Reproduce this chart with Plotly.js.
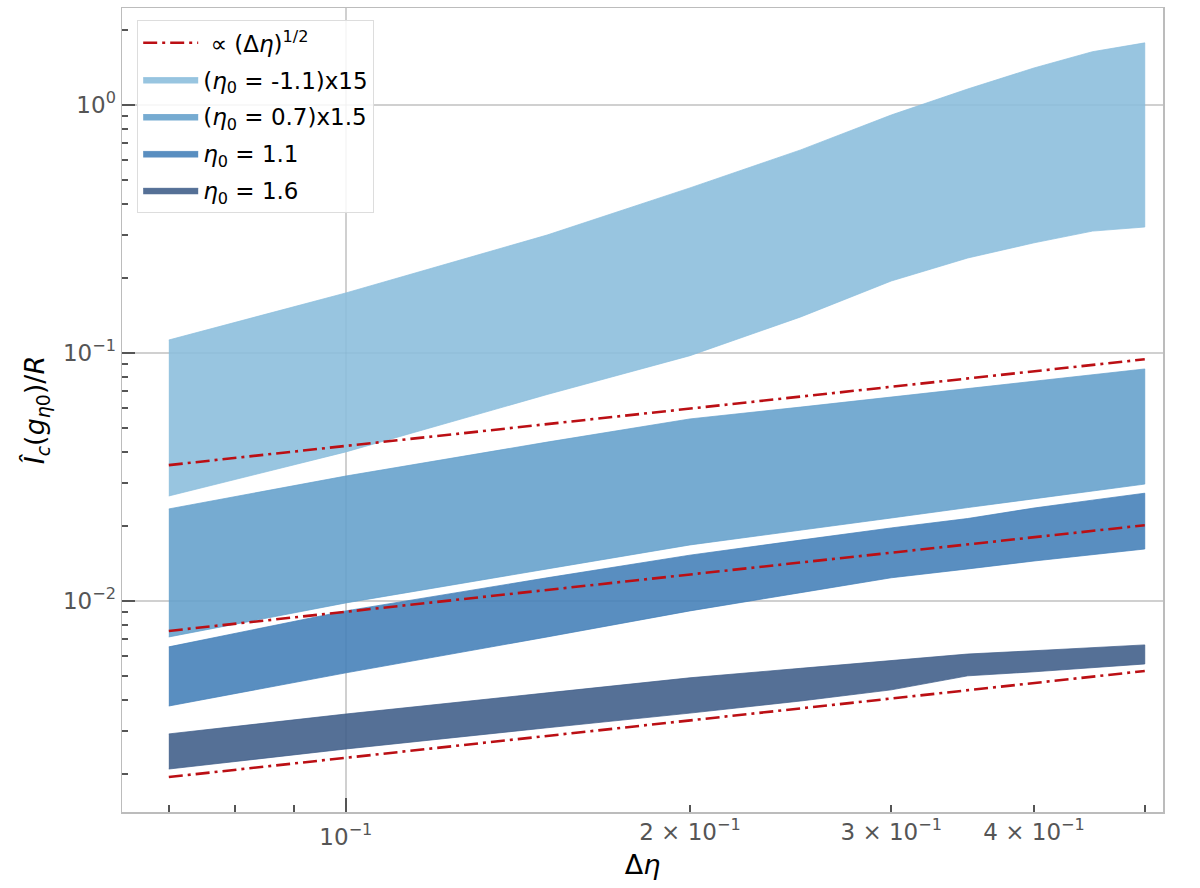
<!DOCTYPE html>
<html>
<head>
<meta charset="utf-8">
<script src="https://cdn.plot.ly/plotly-3.0.1.min.js"></script>
<style>html,body{margin:0;padding:0;background:#fff;}#chart{width:1200px;height:888px;}</style>
</head>
<body>
<div id="chart"></div>
<script>
// Δη sample positions
const deltaEta = [0.07, 0.1, 0.15, 0.2, 0.25, 0.3, 0.35, 0.4, 0.45, 0.5];

// Band 1: (η0 = -1.1) x15
const band1Upper = [0.1128, 0.1746, 0.299, 0.463, 0.659, 0.911, 1.16, 1.41, 1.64, 1.78];
const band1Lower = [0.0265, 0.0399, 0.068, 0.0975, 0.1397, 0.195, 0.2415, 0.278, 0.310, 0.322];
// Band 2: (η0 = 0.7) x1.5
const band2Upper = [0.0235, 0.0319, 0.0437, 0.0542, 0.0605, 0.0665, 0.0718, 0.0770, 0.0815, 0.0862];
const band2Lower = [0.00716, 0.00982, 0.01346, 0.01682, 0.0193, 0.0216, 0.0238, 0.0258, 0.0278, 0.0296];
// Band 3: η0 = 1.1
const band3Upper = [0.00653, 0.00912, 0.0124, 0.0153, 0.0176, 0.0197, 0.0215, 0.0237, 0.0255, 0.0272];
const band3Lower = [0.00377, 0.00513, 0.00716, 0.00912, 0.0108, 0.0124, 0.01346, 0.01449, 0.0154, 0.0162];
// Band 4: η0 = 1.6
const band4Upper = [0.00291, 0.0035, 0.00426, 0.0049, 0.00535, 0.00573, 0.00611, 0.0063, 0.00648, 0.00665];
const band4Lower = [0.0021, 0.00253, 0.00308, 0.00353, 0.00395, 0.00438, 0.00499, 0.00518, 0.00538, 0.00557];

// Reference lines ∝ (Δη)^1/2 (end points)
const refX = [0.07, 0.5];
const ref1Y = [0.0353, 0.0943];
const ref2Y = [0.00757, 0.0202];
const ref3Y = [0.00195, 0.00522];

const bandNames = ['(<i>η</i><sub>0</sub> = -1.1)x15', '(<i>η</i><sub>0</sub> = 0.7)x1.5', '<i>η</i><sub>0</sub> = 1.1', '<i>η</i><sub>0</sub> = 1.6'];
const refName = ' ∝ (Δ<i>η</i>)<sup>1/2</sup>';

// Tick labels
const xMajorVals = [0.1];
const xMajorText = ['10<sup>−1</sup>'];
const xLabelVals = [0.2, 0.3, 0.4];
const xLabelText = ['2 × 10<sup>−1</sup>', '3 × 10<sup>−1</sup>', '4 × 10<sup>−1</sup>'];
const xMinorVals = [0.07, 0.08, 0.09, 0.2, 0.3, 0.4, 0.5];
const yMajorVals = [1, 0.1, 0.01];
const yMajorText = ['10<sup>0</sup>', '10<sup>−1</sup>', '10<sup>−2</sup>'];
const yMinorVals = [0.002, 0.003, 0.004, 0.005, 0.006, 0.007, 0.008, 0.009,
                    0.02, 0.03, 0.04, 0.05, 0.06, 0.07, 0.08, 0.09,
                    0.2, 0.3, 0.4, 0.5, 0.6, 0.7, 0.8, 0.9, 2];

const bandColors = ['rgba(138,189,220,0.88)', 'rgba(99,159,203,0.88)', 'rgba(66,126,183,0.88)', 'rgba(62,92,136,0.88)'];
const redColor = '#bb0f14';

function band(upper, lower, name, color, rank) {
  return {
    x: deltaEta.concat(deltaEta.slice().reverse()),
    y: upper.concat(lower.slice().reverse()),
    type: 'scatter', mode: 'lines', fill: 'toself',
    fillcolor: color, line: {width: 0.8, color: color},
    name: name, legendrank: rank, legendgroup: 'g' + rank, hoverinfo: 'skip'
  };
}
function ref(y, show) {
  return {
    x: refX, y: y, type: 'scatter', mode: 'lines',
    line: {color: redColor, width: 2.6, dash: '14px,5px,3px,5px'},
    name: refName, showlegend: show, legendrank: 1, legendgroup: 'g1', hoverinfo: 'skip'
  };
}

const traces = [
  band(band1Upper, band1Lower, bandNames[0], bandColors[0], 2),
  band(band2Upper, band2Lower, bandNames[1], bandColors[1], 3),
  band(band3Upper, band3Lower, bandNames[2], bandColors[2], 4),
  band(band4Upper, band4Lower, bandNames[3], bandColors[3], 5),
  ref(ref1Y, true),
  ref(ref2Y, false),
  ref(ref3Y, false),
  {x: [null], y: [null], xaxis: 'x2', type: 'scatter', mode: 'lines', showlegend: false, hoverinfo: 'skip'}
];

const xRange = [Math.log10(0.0637), Math.log10(0.5187)];
const tickFont = {family: 'DejaVu Sans', size: 23, color: '#555555'};

const layout = {
  width: 1200, height: 888,
  margin: {l: 122, r: 37, t: 8, b: 76},
  paper_bgcolor: '#ffffff', plot_bgcolor: '#ffffff',
  font: {family: 'DejaVu Sans', color: '#000'},
  showlegend: true,
  legend: {
    x: 0.0144, y: 0.985, xanchor: 'left', yanchor: 'top',
    bgcolor: 'rgba(255,255,255,0.85)', bordercolor: '#dddddd', borderwidth: 1.2,
    font: {family: 'DejaVu Sans', size: 23, color: '#000'},
    traceorder: 'grouped', tracegroupgap: 4, itemwidth: 55
  },
  xaxis: {
    type: 'log', range: xRange,
    tickmode: 'array', tickvals: xMajorVals, ticktext: xMajorText,
    ticks: 'inside', ticklen: 14, tickwidth: 2, tickcolor: '#555555',
    tickfont: tickFont, ticklabelstandoff: 4,
    showgrid: true, gridcolor: 'rgba(150,150,150,0.45)', gridwidth: 1.3,
    minor: {tickvals: xMinorVals, ticks: 'inside', ticklen: 7, tickwidth: 2, tickcolor: '#555555', showgrid: false},
    showline: true, linecolor: '#bcbcbc', linewidth: 1.5, mirror: true,
    zeroline: false,
    title: {text: 'Δ<i>η</i>', font: {family: 'DejaVu Sans', size: 27, color: '#000'}, standoff: 6}
  },
  xaxis2: {
    type: 'log', range: xRange, overlaying: 'x', anchor: 'y', side: 'bottom',
    tickmode: 'array', tickvals: xLabelVals, ticktext: xLabelText,
    ticks: '', tickfont: tickFont, ticklabelstandoff: 4,
    showgrid: false, showline: false, zeroline: false
  },
  yaxis: {
    type: 'log', range: [-2.851, 0.391],
    tickmode: 'array', tickvals: yMajorVals, ticktext: yMajorText,
    ticks: 'inside', ticklen: 13, tickwidth: 2, tickcolor: '#555555',
    tickfont: tickFont,
    showgrid: true, gridcolor: 'rgba(150,150,150,0.45)', gridwidth: 1.3,
    minor: {tickvals: yMinorVals, ticks: 'inside', ticklen: 6, tickwidth: 2, tickcolor: '#555555', showgrid: false},
    showline: true, linecolor: '#bcbcbc', linewidth: 1.5, mirror: true,
    zeroline: false,
    title: {text: '<i>Î</i><sub><i>c</i></sub>(<i>g</i><sub><i>η</i>0</sub>)/<i>R</i>', font: {family: 'DejaVu Sans', size: 27, color: '#000'}, standoff: 10}
  }
};

Plotly.newPlot('chart', traces, layout, {displayModeBar: false, staticPlot: true});
</script>
</body>
</html>
